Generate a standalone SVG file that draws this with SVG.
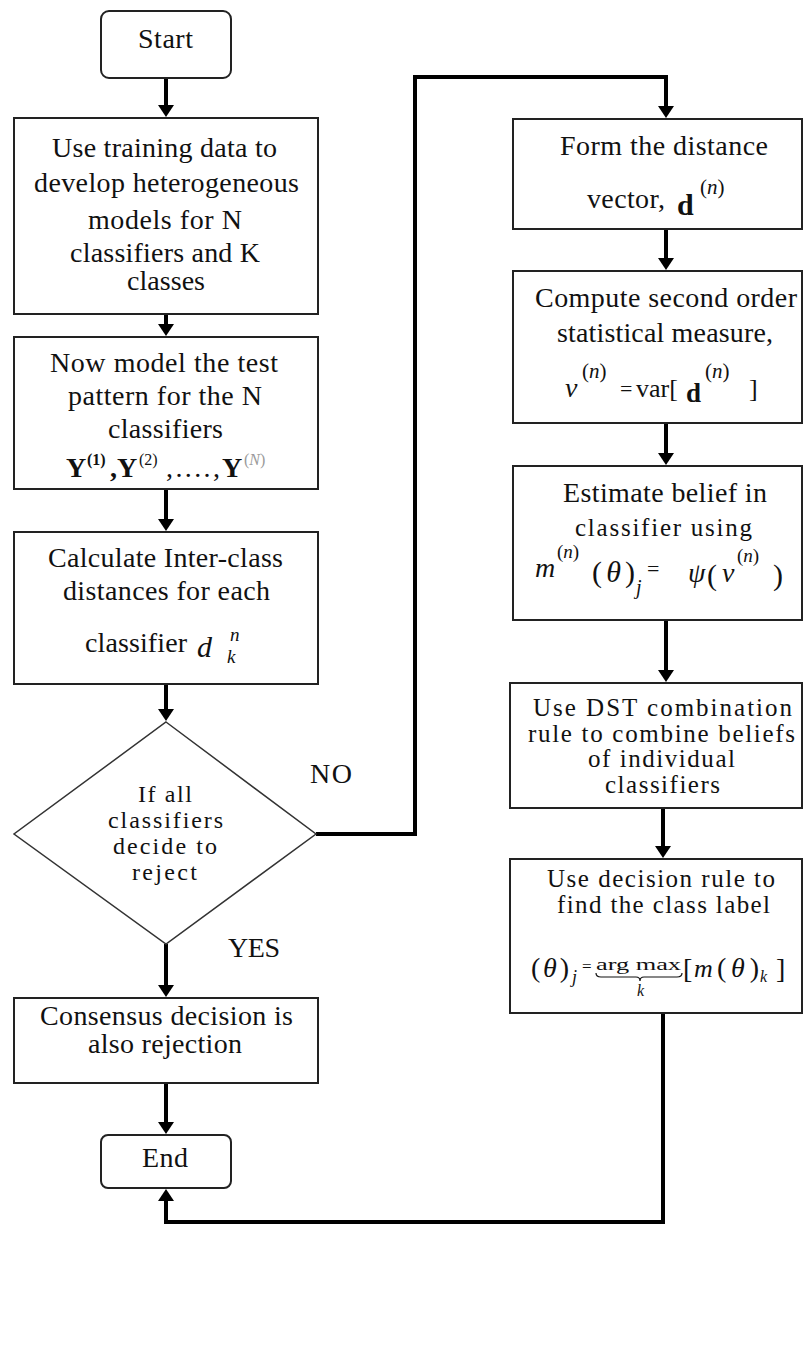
<svg xmlns="http://www.w3.org/2000/svg" width="803" height="1356" viewBox="0 0 803 1356">
  <style>
    .box { fill: #fff; stroke: #222; stroke-width: 2; }
    .dia { fill: #fff; stroke: #333; stroke-width: 1.5; }
    .t { font-family: "Liberation Serif", "Times New Roman", serif; font-size: 28px; fill: #111; }
    .s { font-size: 25px; }
    .xs { font-size: 24px; }
    .i { font-style: italic; }
    .b { font-weight: bold; }
    .wire { fill: none; stroke: #000; stroke-width: 4; }
  </style>
  <defs>
    <marker id="head" viewBox="0 0 12 16" refX="1" refY="8" markerWidth="12" markerHeight="16" markerUnits="userSpaceOnUse" orient="auto">
      <path d="M0,0 L12,8 L0,16 z" fill="#000"/>
    </marker>
  </defs>

  <rect width="803" height="1356" fill="#fff"/>

  <!-- connectors -->
  <g id="connectors">
    <path class="wire" d="M166,78 V106" marker-end="url(#head)"/>
    <path class="wire" d="M166,314 V325" marker-end="url(#head)"/>
    <path class="wire" d="M166,489 V520" marker-end="url(#head)"/>
    <path class="wire" d="M166,684 V710" marker-end="url(#head)"/>
    <path class="wire" d="M166,944 V986" marker-end="url(#head)"/>
    <path class="wire" d="M166,1083 V1123" marker-end="url(#head)"/>
    <path class="wire" d="M316,834 H415 V77 H666 V107" marker-end="url(#head)"/>
    <path class="wire" d="M666,229 V259" marker-end="url(#head)"/>
    <path class="wire" d="M666,423 V454" marker-end="url(#head)"/>
    <path class="wire" d="M666,620 V671" marker-end="url(#head)"/>
    <path class="wire" d="M663,808 V847" marker-end="url(#head)"/>
    <path class="wire" d="M663,1013 V1222 H166 V1200" marker-end="url(#head)"/>
    <text class="t" x="310" y="783" textLength="42">NO</text>
    <text class="t" x="228" y="957" textLength="52">YES</text>
  </g>

  <!-- terminal: start -->
  <g id="start">
    <rect class="box" x="101" y="11" width="130" height="67" rx="8"/>
    <text class="t" x="138" y="48" textLength="55">Start</text>
  </g>

  <!-- step: training -->
  <g id="train">
    <rect class="box" x="14" y="118" width="304" height="196"/>
    <text class="t" x="52" y="157" textLength="225">Use training data to</text>
    <text class="t" x="34" y="192" textLength="265">develop heterogeneous</text>
    <text class="t" x="88" y="229" textLength="154">models for N</text>
    <text class="t" x="70" y="262" textLength="190">classifiers and K</text>
    <text class="t" x="127" y="290" textLength="78">classes</text>
  </g>

  <!-- step: test pattern -->
  <g id="model">
    <rect class="box" x="14" y="337" width="304" height="152"/>
    <text class="t" x="50" y="372" textLength="228">Now model the test</text>
    <text class="t" x="68" y="405" textLength="194">pattern for the N</text>
    <text class="t" x="108" y="438" textLength="115">classifiers</text>
    <text class="t b" x="66" y="477">Y</text>
    <text class="t b" x="87" y="465" style="font-size:16px">(1)</text>
    <text class="t b" x="110" y="477">,</text>
    <text class="t b" x="117" y="477">Y</text>
    <text class="t" x="139" y="465" style="font-size:16px">(2)</text>
    <text class="t" x="166" y="477" textLength="54">,....,</text>
    <text class="t b" x="222" y="477">Y</text>
    <text class="t" x="244" y="465" style="font-size:16px;fill:#9a9a9a">(<tspan class="i">N</tspan>)</text>
  </g>

  <!-- step: distances -->
  <g id="distances">
    <rect class="box" x="14" y="532" width="304" height="152"/>
    <text class="t" x="48" y="567" textLength="235">Calculate Inter-class</text>
    <text class="t" x="63" y="600" textLength="207">distances for each</text>
    <text class="t" x="85" y="652" textLength="102">classifier</text>
    <text class="t i" x="197" y="657" style="font-size:30px">d</text>
    <text class="t i" x="230" y="641" style="font-size:19px">n</text>
    <text class="t i" x="227" y="663" style="font-size:19px">k</text>
  </g>

  <!-- decision -->
  <g id="decide">
    <polygon class="dia" points="166,722 316,834 166,944 14,834"/>
    <text class="t xs" x="138" y="802" textLength="54">If all</text>
    <text class="t xs" x="108" y="828" textLength="115">classifiers</text>
    <text class="t xs" x="113" y="854" textLength="104">decide to</text>
    <text class="t xs" x="132" y="880" textLength="65">reject</text>
  </g>

  <!-- step: rejection -->
  <g id="reject">
    <rect class="box" x="14" y="998" width="304" height="85"/>
    <text class="t" x="40" y="1025" textLength="253">Consensus decision is</text>
    <text class="t" x="88" y="1053" textLength="154">also rejection</text>
  </g>

  <!-- terminal: end -->
  <g id="end">
    <rect class="box" x="101" y="1135" width="130" height="53" rx="7"/>
    <text class="t" x="142" y="1167" textLength="46">End</text>
  </g>

  <!-- step: distance vector -->
  <g id="vector">
    <rect class="box" x="513" y="119" width="289" height="110"/>
    <text class="t" x="560" y="155" textLength="208">Form the distance</text>
    <text class="t" x="587" y="208" textLength="78">vector,</text>
    <text class="t b" x="677" y="215" style="font-size:30px">d</text>
    <text class="t" x="700" y="194" style="font-size:21px">(<tspan class="i">n</tspan>)</text>
  </g>

  <!-- step: variance -->
  <g id="variance">
    <rect class="box" x="513" y="271" width="289" height="152"/>
    <text class="t" x="535" y="307" textLength="262">Compute second order</text>
    <text class="t" x="557" y="342" textLength="216">statistical measure,</text>
    <text class="t i" x="565" y="397">v</text>
    <text class="t" x="582" y="378" style="font-size:21px">(<tspan class="i">n</tspan>)</text>
    <text class="t" x="620" y="396" style="font-size:22px">=</text>
    <text class="t" x="636" y="397" style="font-size:26px">var[</text>
    <text class="t b" x="686" y="402" style="font-size:27px">d</text>
    <text class="t" x="705" y="378" style="font-size:21px">(<tspan class="i">n</tspan>)</text>
    <text class="t" x="749" y="397" style="font-size:26px">]</text>
  </g>

  <!-- step: belief -->
  <g id="belief">
    <rect class="box" x="513" y="466" width="289" height="154"/>
    <text class="t" x="563" y="502" textLength="204">Estimate belief in</text>
    <text class="t s" x="575" y="536" textLength="177">classifier using</text>
    <text class="t i" x="535" y="577">m</text>
    <text class="t" x="557" y="558" style="font-size:19px">(<tspan class="i">n</tspan>)</text>
    <text class="t" x="592" y="582" style="font-size:30px" textLength="43">(<tspan class="i">θ</tspan>)</text>
    <text class="t i" x="636" y="594" style="font-size:20px">j</text>
    <text class="t" x="647" y="576" style="font-size:22px">=</text>
    <text class="t i" x="688" y="582">ψ</text>
    <text class="t" x="707" y="585" style="font-size:30px">(</text>
    <text class="t i" x="722" y="582">v</text>
    <text class="t" x="737" y="562" style="font-size:19px">(<tspan class="i">n</tspan>)</text>
    <text class="t" x="773" y="585" style="font-size:30px">)</text>
  </g>

  <!-- step: combination -->
  <g id="combine">
    <rect class="box" x="510" y="683" width="292" height="125"/>
    <text class="t s" x="533" y="716" textLength="259">Use DST combination</text>
    <text class="t s" x="528" y="742" textLength="267">rule to combine beliefs</text>
    <text class="t s" x="588" y="767" textLength="147">of individual</text>
    <text class="t s" x="605" y="793" textLength="115">classifiers</text>
  </g>

  <!-- step: decision rule -->
  <g id="label">
    <rect class="box" x="510" y="859" width="292" height="154"/>
    <text class="t s" x="547" y="887" textLength="228">Use decision rule to</text>
    <text class="t s" x="557" y="913" textLength="213">find the class label</text>
    <text class="t" x="531" y="977" textLength="38">(<tspan class="i">θ</tspan>)</text>
    <text class="t i" x="572" y="983" style="font-size:18px">j</text>
    <text class="t" x="582" y="972" style="font-size:17px">=</text>
    <text class="t" x="596" y="970" style="font-size:17px" textLength="85" lengthAdjust="spacingAndGlyphs">arg max</text>
    <path d="M596,973 q0,4 5,4 H636 q4,0 4,4 q0,-4 4,-4 H677 q5,0 5,-4" fill="none" stroke="#111" stroke-width="1.2"/>
    <text class="t i" x="637" y="996" style="font-size:16px">k</text>
    <text class="t" x="683" y="978">[</text>
    <text class="t i" x="694" y="977" style="font-size:26px">m</text>
    <text class="t" x="717" y="977" textLength="42">(<tspan class="i">θ</tspan>)</text>
    <text class="t i" x="760" y="982" style="font-size:16px">k</text>
    <text class="t" x="776" y="978">]</text>
  </g>
</svg>
